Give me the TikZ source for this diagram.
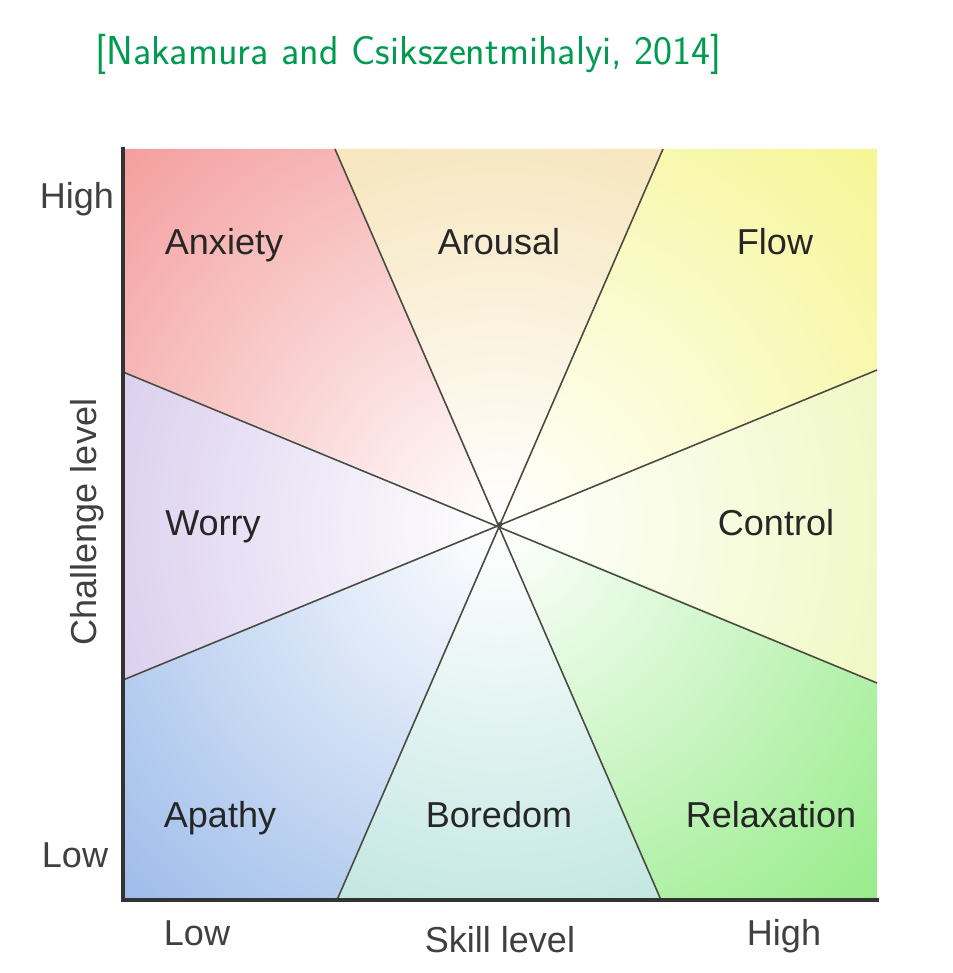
\documentclass[tikz,border=0pt]{standalone}
\usepackage{fontspec}
\newfontfamily\labelfont{Liberation Sans}
\usepackage{xcolor}
\usetikzlibrary{positioning}

\definecolor{titlegreen}{RGB}{0,155,80}
\definecolor{anxcol}{HTML}{F28C8C}
\definecolor{arocol}{HTML}{F2D89A}
\definecolor{flocol}{HTML}{F4F482}
\definecolor{concol}{HTML}{E8F4A4}
\definecolor{relcol}{HTML}{84E874}
\definecolor{borcol}{HTML}{A2DAD2}
\definecolor{apacol}{HTML}{8CB0E6}
\definecolor{worcol}{HTML}{C8B6E6}
\definecolor{divcol}{HTML}{4A4A40}

\tikzset{
  state/.style={font=\labelfont\fontsize{20.5}{24}\selectfont, text=black!85, anchor=base, inner sep=0pt},
  axislabel/.style={state, text=black!75},
  divider/.style={divcol, line width=0.9pt},
  axisline/.style={black!80, line width=2pt, line cap=rect},
}

\newcommand{\sector}[2]{%
  \begin{scope}
    \clip #2 -- cycle;
    \shade[inner color=white, outer color=#1] (c) circle (12.6);
  \end{scope}}

\begin{document}
\begin{tikzpicture}
  \useasboundingbox (0,0) rectangle (19.06,-19.46);

  % corners, centre and crossings
  \coordinate (tl) at (2.46,-2.98);
  \coordinate (tr) at (17.54,-2.98);
  \coordinate (bl) at (2.46,-18.0);
  \coordinate (br) at (17.54,-18.0);
  \coordinate (c)  at (10.0,-10.49);
  \coordinate (t1) at (6.70,-2.98);
  \coordinate (t2) at (13.26,-2.98);
  \coordinate (b1) at (6.74,-18.0);
  \coordinate (b2) at (13.22,-18.0);
  \coordinate (l1) at (2.46,-7.44);
  \coordinate (l2) at (2.46,-13.60);
  \coordinate (r1) at (17.54,-7.40);
  \coordinate (r2) at (17.54,-13.66);

  % coloured sectors
  \sector{anxcol}{(c) -- (l1) -- (tl) -- (t1)}
  \sector{arocol}{(c) -- (t1) -- (t2)}
  \sector{flocol}{(c) -- (t2) -- (tr) -- (r1)}
  \sector{concol}{(c) -- (r1) -- (r2)}
  \sector{relcol}{(c) -- (r2) -- (br) -- (b2)}
  \sector{borcol}{(c) -- (b2) -- (b1)}
  \sector{apacol}{(c) -- (b1) -- (bl) -- (l2)}
  \sector{worcol}{(c) -- (l2) -- (l1)}

  % dividing lines
  \draw[divider] (t1) -- (b2);
  \draw[divider] (t2) -- (b1);
  \draw[divider] (l1) -- (r2);
  \draw[divider] (l2) -- (r1);
  \fill[divcol] (c) circle (0.05);

  % axes
  \draw[axisline] (tl) -- (bl) -- (br);

  % state names
  \node[state] (anxiety)    at (4.48,-5.08)  {Anxiety};
  \node[state] (arousal)    at (9.98,-5.08)  {Arousal};
  \node[state] (flow)       at (15.50,-5.08) {Flow};
  \node[state] (worry)      at (4.26,-10.70) {Worry};
  \node[state] (control)    at (15.52,-10.70){Control};
  \node[state] (apathy)     at (4.40,-16.54) {Apathy};
  \node[state] (boredom)    at (9.98,-16.54) {Boredom};
  \node[state] (relaxation) at (15.42,-16.54){Relaxation};

  % axis labels
  \node[axislabel] (yhigh) at (1.54,-4.18)  {High};
  \node[axislabel] (ylow)  at (1.50,-17.34) {Low};
  \node[axislabel, rotate=90] (ytitle) at (1.92,-10.44) {Challenge level};
  \node[axislabel] (xlow)  at (3.94,-18.90) {Low};
  \node[axislabel] (xtitle) at (10.0,-19.04) {Skill level};
  \node[axislabel] (xhigh) at (15.68,-18.90) {High};

  % reference
  \node[anchor=base west, inner sep=0pt, text=titlegreen,
        font=\sffamily\fontsize{23}{27}\selectfont] (cite) at (1.9,-1.30)
        {[Nakamura and Csikszentmihalyi, 2014]};
\end{tikzpicture}
\end{document}
